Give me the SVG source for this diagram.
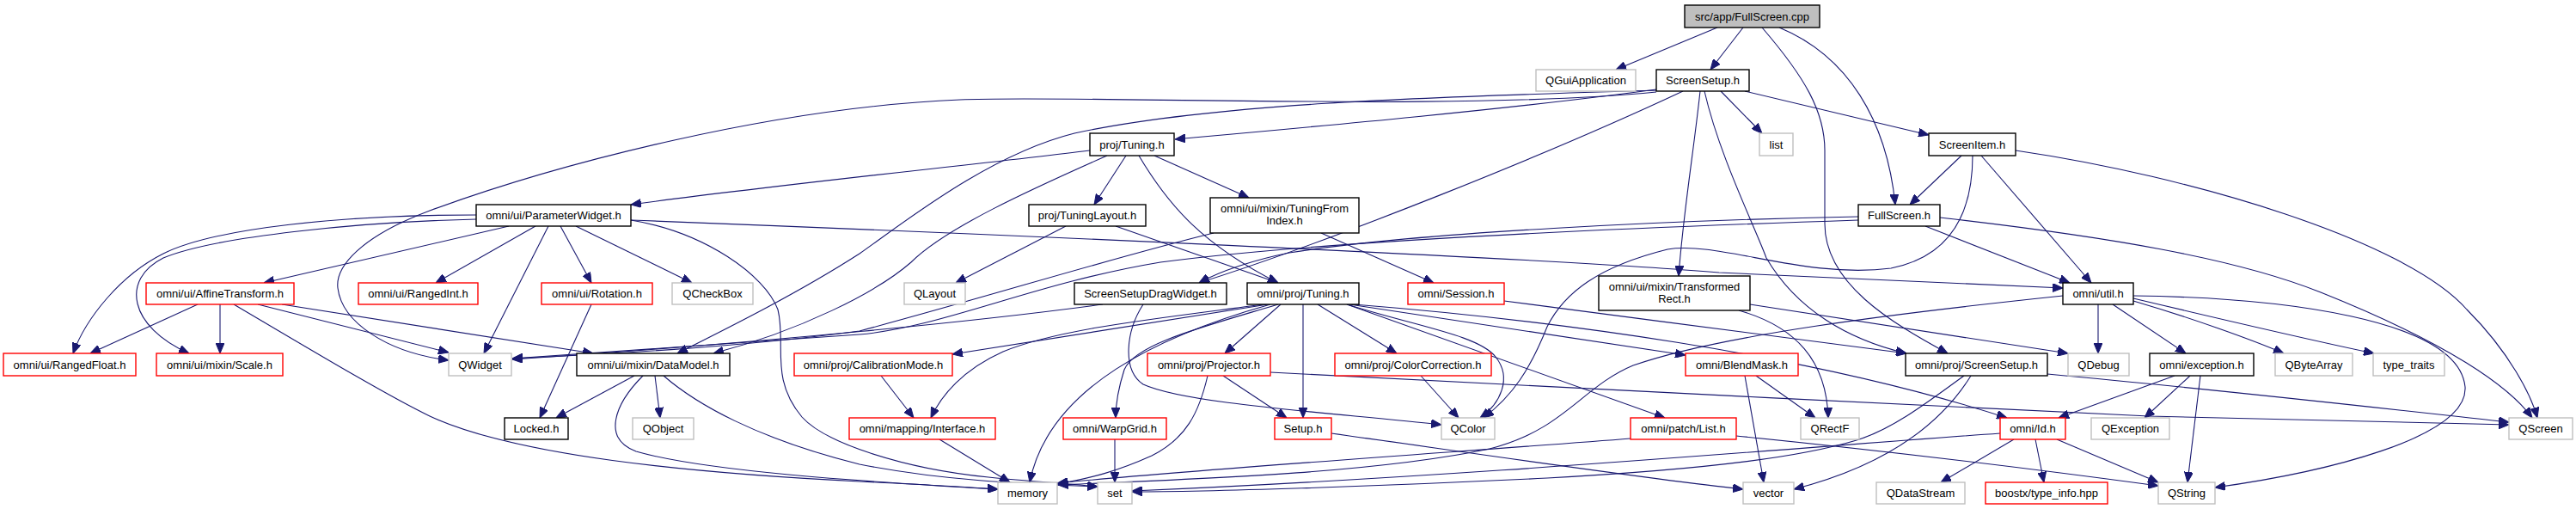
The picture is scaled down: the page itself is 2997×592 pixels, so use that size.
<svg xmlns="http://www.w3.org/2000/svg" width="2997" height="592" viewBox="0 0 2997 592">
<style>
rect{fill:#ffffff;stroke:#000000;stroke-width:1.4}
.g rect{stroke:#bfbfbf}
.r rect{stroke:#ff0000}
.root rect{fill:#bfbfbf}
text{font-family:"Liberation Sans",Arial,sans-serif;font-size:13px;text-anchor:middle;fill:#000000}
#edges path{fill:none;stroke:#191970;stroke-width:1.1;marker-end:url(#a)}
</style>
<defs>
<marker id="a" markerUnits="userSpaceOnUse" markerWidth="12" markerHeight="10" viewBox="0 0 12 10" refX="12" refY="5" orient="auto">
<path d="M0,0 L12,5 L0,10 z" fill="#191970" stroke="#191970" stroke-width="1"/>
</marker>
</defs>
<rect x="0" y="0" width="2997" height="592" style="fill:#ffffff;stroke:none"/>
<g id="edges">
<path d="M1998,32 L1880,81"/>
<path d="M2028,32 L1990,81"/>
<path d="M2070,32 C2150,65 2195,140 2205,238"/>
<path d="M2050,32 C2100,90 2123,130 2123,175 L2123,260 C2123,330 2200,375 2266,411"/>
<path d="M2002,106 L2050,155"/>
<path d="M2030,106 L2244,157"/>
<path d="M1927,104 C1750,128 1500,150 1367,162"/>
<path d="M1927,107 C1700,130 1250,110 1117,116 C900,125 650,190 500,245 C420,275 390,310 393,335 C398,375 450,410 522,419"/>
<path d="M1927,105 C1700,112 1420,118 1250,155 C1150,180 1050,260 1000,295 C930,340 850,380 788,411"/>
<path d="M1958,106 C1800,180 1550,280 1395,329"/>
<path d="M1978,106 C1970,180 1958,250 1953,321"/>
<path d="M1983,106 C2000,180 2040,260 2055,300 C2090,360 2150,395 2218,411"/>
<path d="M1268,175 C1150,190 900,215 734,238"/>
<path d="M1310,181 L1273,238"/>
<path d="M1343,181 L1453,230"/>
<path d="M1325,181 C1360,240 1400,285 1487,329"/>
<path d="M1288,181 C1200,220 1100,265 1060,305 C1020,340 930,385 830,411"/>
<path d="M2282,181 L2222,238"/>
<path d="M2345,175 C2550,205 2800,280 2870,360 C2920,410 2945,460 2952,486"/>
<path d="M2305,181 L2433,329"/>
<path d="M2295,181 C2295,260 2260,300 2200,312 C2100,325 2000,280 1940,290 C1860,310 1820,340 1800,380 C1780,430 1760,460 1726,486"/>
<path d="M2240,263 L2408,329"/>
<path d="M2257,253 C2450,275 2600,300 2700,340 C2850,400 2920,450 2946,486"/>
<path d="M2162,252 C1950,256 1650,270 1500,294 C1460,302 1420,315 1395,329"/>
<path d="M2162,256 C1800,268 1500,285 1350,305 C1200,330 1100,380 1000,389 C850,400 700,410 596,417"/>
<path d="M1537,271 L1668,329"/>
<path d="M1412,271 C1300,298 1150,345 1000,385 C850,405 700,412 596,417"/>
<path d="M554,250 C400,250 250,265 190,295 C140,320 100,370 85,411"/>
<path d="M554,255 C420,258 250,275 190,300 C140,325 150,380 220,411"/>
<path d="M592,263 L307,329"/>
<path d="M623,263 L507,329"/>
<path d="M638,263 L563,411"/>
<path d="M652,263 L688,329"/>
<path d="M670,263 L805,329"/>
<path d="M734,256 C820,270 890,320 905,360 C915,400 895,440 933,485 C960,515 1050,545 1150,555 C1200,560 1250,563 1277,566"/>
<path d="M734,256 C1100,270 1800,300 2000,317 C2200,327 2350,333 2400,335"/>
<path d="M230,354 L105,411"/>
<path d="M256,354 L256,411"/>
<path d="M300,354 L522,410"/>
<path d="M328,354 L690,411"/>
<path d="M272,354 C350,400 450,460 500,484 C600,530 800,550 1000,560 C1060,563 1120,566 1161,569"/>
<path d="M688,354 L628,486"/>
<path d="M738,437 L647,486"/>
<path d="M762,437 L768,486"/>
<path d="M748,437 C715,470 700,510 740,525 C820,548 1000,560 1161,569"/>
<path d="M772,437 C810,470 880,510 1000,540 C1100,560 1200,563 1277,566"/>
<path d="M1025,437 L1063,486"/>
<path d="M1093,511 L1175,561"/>
<path d="M1470,354 C1350,370 1233,382 1167,409 C1120,430 1095,460 1083,486"/>
<path d="M1475,354 L1108,412"/>
<path d="M1478,354 C1350,390 1220,450 1198,561"/>
<path d="M1487,354 C1400,380 1320,400 1308,430 C1300,455 1298,475 1298,486"/>
<path d="M1490,354 L1425,411"/>
<path d="M1516,354 L1516,486"/>
<path d="M1533,354 L1625,411"/>
<path d="M1567,354 C1650,380 1720,390 1740,415 C1760,440 1745,470 1722,486"/>
<path d="M1570,354 L1961,413"/>
<path d="M1567,354 L1937,486"/>
<path d="M1575,354 C1800,372 2100,410 2335,486"/>
<path d="M1750,350 C1900,370 2100,395 2218,411"/>
<path d="M1283,354 C1150,372 900,398 596,418"/>
<path d="M1330,354 C1310,385 1305,430 1330,447 C1380,470 1550,480 1677,494"/>
<path d="M1240,263 L1112,329"/>
<path d="M1298,263 L1487,329"/>
<path d="M1423,437 L1497,486"/>
<path d="M1405,437 C1395,480 1380,510 1340,530 C1300,548 1270,556 1230,563"/>
<path d="M1478,433 C1700,445 2200,470 2500,484 C2700,490 2850,493 2919,494"/>
<path d="M1297,511 L1297,561"/>
<path d="M1653,437 L1697,486"/>
<path d="M1549,504 C1700,525 1900,555 2028,569"/>
<path d="M2020,507 C2200,525 2400,550 2511,565"/>
<path d="M1897,510 C1750,522 1400,545 1230,562"/>
<path d="M2400,344 C2200,365 2000,390 1900,425 C1840,450 1820,500 1733,522 C1600,550 1400,557 1231,564"/>
<path d="M2327,504 C2100,520 1700,555 1317,571"/>
<path d="M2285,437 C2240,470 2200,500 2160,512 C2100,530 2000,545 1800,556 C1600,566 1400,572 1317,572"/>
<path d="M2293,437 C2260,490 2200,540 2087,569"/>
<path d="M2382,435 C2600,455 2800,478 2919,491"/>
<path d="M2030,437 L2052,561"/>
<path d="M2043,437 L2112,486"/>
<path d="M2023,361 C2090,380 2125,420 2127,486"/>
<path d="M2036,354 L2406,411"/>
<path d="M2441,354 L2441,411"/>
<path d="M2458,354 L2543,411"/>
<path d="M2482,350 C2550,370 2620,395 2657,411"/>
<path d="M2482,347 C2600,375 2700,398 2762,411"/>
<path d="M2482,344 C2650,346 2860,370 2868,450 C2872,510 2700,550 2577,567"/>
<path d="M2530,437 L2395,486"/>
<path d="M2548,437 L2495,486"/>
<path d="M2560,437 L2545,561"/>
<path d="M2343,511 L2258,561"/>
<path d="M2368,511 L2378,561"/>
<path d="M2393,511 L2511,561"/>
</g>
<g id="n0" class="root"><rect x="1960" y="6" width="157" height="26"/><text x="2038.5" y="23.5">src/app/FullScreen.cpp</text></g>
<g id="n1" class="g"><rect x="1787" y="81" width="116" height="25"/><text x="1845" y="98">QGuiApplication</text></g>
<g id="n2"><rect x="1927" y="81" width="108" height="25"/><text x="1981" y="98">ScreenSetup.h</text></g>
<g id="n3"><rect x="1268" y="155" width="98" height="26"/><text x="1317" y="172.5">proj/Tuning.h</text></g>
<g id="n4" class="g"><rect x="2047" y="155" width="39" height="26"/><text x="2066.5" y="172.5">list</text></g>
<g id="n5"><rect x="2244" y="155" width="101" height="26"/><text x="2294.5" y="172.5">ScreenItem.h</text></g>
<g id="n6"><rect x="554" y="238" width="180" height="25"/><text x="644" y="255">omni/ui/ParameterWidget.h</text></g>
<g id="n7"><rect x="1197" y="238" width="136" height="25"/><text x="1265" y="255">proj/TuningLayout.h</text></g>
<g id="n8"><rect x="1408" y="230" width="173" height="41"/><text x="1494.5" y="247">omni/ui/mixin/TuningFrom</text><text x="1494.5" y="261">Index.h</text></g>
<g id="n9"><rect x="2162" y="238" width="95" height="25"/><text x="2209.5" y="255">FullScreen.h</text></g>
<g id="n10" class="r"><rect x="170" y="329" width="172" height="25"/><text x="256" y="346">omni/ui/AffineTransform.h</text></g>
<g id="n11" class="r"><rect x="417" y="329" width="139" height="25"/><text x="486.5" y="346">omni/ui/RangedInt.h</text></g>
<g id="n12" class="r"><rect x="630" y="329" width="129" height="25"/><text x="694.5" y="346">omni/ui/Rotation.h</text></g>
<g id="n13" class="g"><rect x="782" y="329" width="94" height="25"/><text x="829" y="346">QCheckBox</text></g>
<g id="n14" class="g"><rect x="1052" y="329" width="71" height="25"/><text x="1087.5" y="346">QLayout</text></g>
<g id="n15"><rect x="1250" y="329" width="177" height="25"/><text x="1338.5" y="346">ScreenSetupDragWidget.h</text></g>
<g id="n16"><rect x="1451" y="329" width="130" height="25"/><text x="1516" y="346">omni/proj/Tuning.h</text></g>
<g id="n17" class="r"><rect x="1638" y="329" width="112" height="25"/><text x="1694" y="346">omni/Session.h</text></g>
<g id="n18"><rect x="1860" y="321" width="176" height="40"/><text x="1948" y="337.5">omni/ui/mixin/Transformed</text><text x="1948" y="352">Rect.h</text></g>
<g id="n19"><rect x="2400" y="329" width="82" height="25"/><text x="2441" y="346">omni/util.h</text></g>
<g id="n20" class="r"><rect x="4" y="411" width="154" height="26"/><text x="81" y="428.5">omni/ui/RangedFloat.h</text></g>
<g id="n21" class="r"><rect x="182" y="411" width="147" height="26"/><text x="255.5" y="428.5">omni/ui/mixin/Scale.h</text></g>
<g id="n22" class="g"><rect x="522" y="411" width="73" height="26"/><text x="558.5" y="428.5">QWidget</text></g>
<g id="n23"><rect x="671" y="411" width="178" height="26"/><text x="760" y="428.5">omni/ui/mixin/DataModel.h</text></g>
<g id="n24" class="r"><rect x="924" y="411" width="184" height="26"/><text x="1016" y="428.5">omni/proj/CalibrationMode.h</text></g>
<g id="n25" class="r"><rect x="1335" y="411" width="143" height="26"/><text x="1406.5" y="428.5">omni/proj/Projector.h</text></g>
<g id="n26" class="r"><rect x="1553" y="411" width="182" height="26"/><text x="1644" y="428.5">omni/proj/ColorCorrection.h</text></g>
<g id="n27" class="r"><rect x="1961" y="411" width="131" height="26"/><text x="2026.5" y="428.5">omni/BlendMask.h</text></g>
<g id="n28"><rect x="2217" y="411" width="165" height="26"/><text x="2299.5" y="428.5">omni/proj/ScreenSetup.h</text></g>
<g id="n29" class="g"><rect x="2406" y="411" width="71" height="26"/><text x="2441.5" y="428.5">QDebug</text></g>
<g id="n30"><rect x="2501" y="411" width="121" height="26"/><text x="2561.5" y="428.5">omni/exception.h</text></g>
<g id="n31" class="g"><rect x="2647" y="411" width="90" height="26"/><text x="2692" y="428.5">QByteArray</text></g>
<g id="n32" class="g"><rect x="2761" y="411" width="83" height="26"/><text x="2802.5" y="428.5">type_traits</text></g>
<g id="n33"><rect x="587" y="486" width="74" height="25"/><text x="624" y="503">Locked.h</text></g>
<g id="n34" class="g"><rect x="736" y="486" width="71" height="25"/><text x="771.5" y="503">QObject</text></g>
<g id="n35" class="r"><rect x="988" y="486" width="170" height="25"/><text x="1073" y="503">omni/mapping/Interface.h</text></g>
<g id="n36" class="r"><rect x="1237" y="486" width="120" height="25"/><text x="1297" y="503">omni/WarpGrid.h</text></g>
<g id="n37" class="r"><rect x="1483" y="486" width="66" height="25"/><text x="1516" y="503">Setup.h</text></g>
<g id="n38" class="g"><rect x="1677" y="486" width="62" height="25"/><text x="1708" y="503">QColor</text></g>
<g id="n39" class="r"><rect x="1897" y="486" width="123" height="25"/><text x="1958.5" y="503">omni/patch/List.h</text></g>
<g id="n40" class="g"><rect x="2095" y="486" width="68" height="25"/><text x="2129" y="503">QRectF</text></g>
<g id="n41" class="r"><rect x="2327" y="486" width="76" height="25"/><text x="2365" y="503">omni/Id.h</text></g>
<g id="n42" class="g"><rect x="2433" y="486" width="91" height="25"/><text x="2478.5" y="503">QException</text></g>
<g id="n43" class="g"><rect x="2919" y="486" width="74" height="25"/><text x="2956" y="503">QScreen</text></g>
<g id="n44" class="g"><rect x="1161" y="561" width="69" height="25"/><text x="1195.5" y="578">memory</text></g>
<g id="n45" class="g"><rect x="1277" y="561" width="40" height="25"/><text x="1297" y="578">set</text></g>
<g id="n46" class="g"><rect x="2028" y="561" width="59" height="25"/><text x="2057.5" y="578">vector</text></g>
<g id="n47" class="g"><rect x="2183" y="561" width="103" height="25"/><text x="2234.5" y="578">QDataStream</text></g>
<g id="n48" class="r"><rect x="2310" y="561" width="142" height="25"/><text x="2381" y="578">boostx/type_info.hpp</text></g>
<g id="n49" class="g"><rect x="2511" y="561" width="66" height="25"/><text x="2544" y="578">QString</text></g>
</svg>
